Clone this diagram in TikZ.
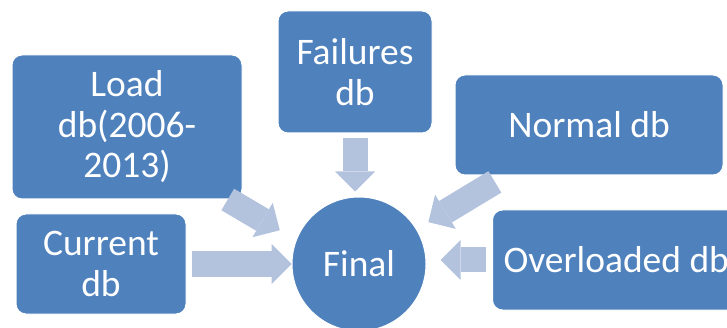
\documentclass[tikz,border=0pt]{standalone}
\usepackage{fontspec}
\setmainfont{Carlito}
\usetikzlibrary{arrows.meta}
\definecolor{boxblue}{HTML}{4F81BD}
\definecolor{flowblue}{HTML}{B3C3DE}
\begin{document}
\begin{tikzpicture}[x=1pt, y=-1pt,
    dbbox/.style={fill=boxblue, draw=white, line width=1pt, rounded corners=10pt, text=white, align=center, inner sep=0pt, font=\fontsize{37.5}{40.5}\selectfont},
    flow/.style={draw=flowblue, line width=25pt, -{Triangle[length=20pt, width=40pt, line width=0pt]}}]
\useasboundingbox (0,0) rectangle (727,328);

\node[dbbox, minimum width=230pt, minimum height=144pt] (load) at (127,127) {Load\\db(2006-\\2013)};
\node[dbbox, minimum width=170pt, minimum height=100pt] (current) at (101,264) {Current\\db};
\node[dbbox, minimum width=154pt, minimum height=122pt] (failures) at (355,72) {Failures\\db};
\node[dbbox, minimum width=268pt, minimum height=100pt] (normal) at (589,125) {Normal db};
\node[dbbox, minimum height=100pt, inner xsep=11pt, anchor=west] (overloaded) at (492,260) {Overloaded db};
\node[dbbox, circle, minimum size=134pt] (final) at (359,264) {Final};

% arrows into the circle
\draw[flow, shorten <=117pt, shorten >=92pt] ([yshift=-13pt]load.center) -- ([yshift=-13pt]final.center);
\draw[flow, shorten <=5pt] (current) -- (final);
\draw[flow, shorten <=5pt, shorten >=5pt] (failures.south) -- (failures.south |- final.north);
\draw[flow, shorten <=110pt, shorten >=81pt] (normal.center) -- (final.center);
\draw[flow, shorten <=6pt, shorten >=14pt] (overloaded.west) -- (overloaded.west -| final.east);
\end{tikzpicture}
\end{document}
